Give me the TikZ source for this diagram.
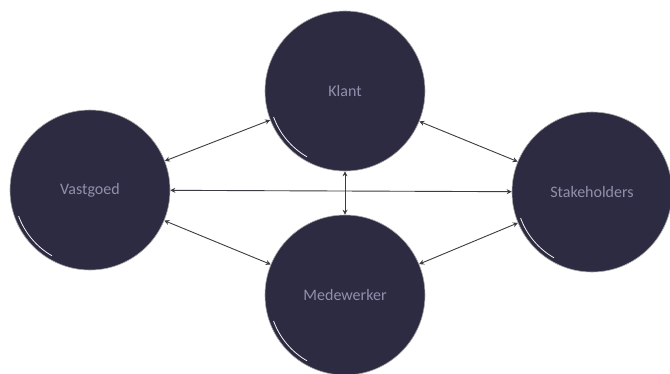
\documentclass[tikz,border=0pt]{standalone}
\usepackage{fontspec}
\setmainfont{Carlito}
\usetikzlibrary{arrows.meta}
\definecolor{ballfill}{RGB}{44,43,66}
\definecolor{balltext}{RGB}{145,143,172}
\definecolor{linkcol}{RGB}{60,60,66}
\tikzset{
  ball/.style={circle, fill=ballfill, draw=gray!70, line width=0.6pt, minimum size=160pt, inner sep=0pt,
    text=balltext, font=\fontsize{16}{19}\selectfont},
  link/.style={draw=linkcol, line width=0.9pt, {Stealth[length=5pt,width=5pt]}-{Stealth[length=5pt,width=5pt]}},
  gloss/.style={draw=white!90!gray, line width=0.8pt}
}
\begin{document}
\begin{tikzpicture}[x=1pt,y=-1pt]
\useasboundingbox[fill=white] (0,0) rectangle (670,373);
\node[ball] (klant) at (345,91) {Klant};
\node[ball] (vast) at (90,190) {Vastgoed};
\node[ball] (stake) at (592,192) {Stakeholders};
\node[ball] (mede) at (345,295) {Medewerker};
\foreach \n in {klant,vast,stake,mede}{
  \draw[gloss] (\n.center) ++(200:76pt) arc[start angle=200, end angle=240, radius=76pt];
}
\draw[link] (vast) -- (klant);
\draw[link] (klant) -- (stake);
\draw[link] (vast) -- (stake);
\draw[link] (klant) -- (mede);
\draw[link] (vast) -- (mede);
\draw[link] (mede) -- (stake);
\end{tikzpicture}
\end{document}
